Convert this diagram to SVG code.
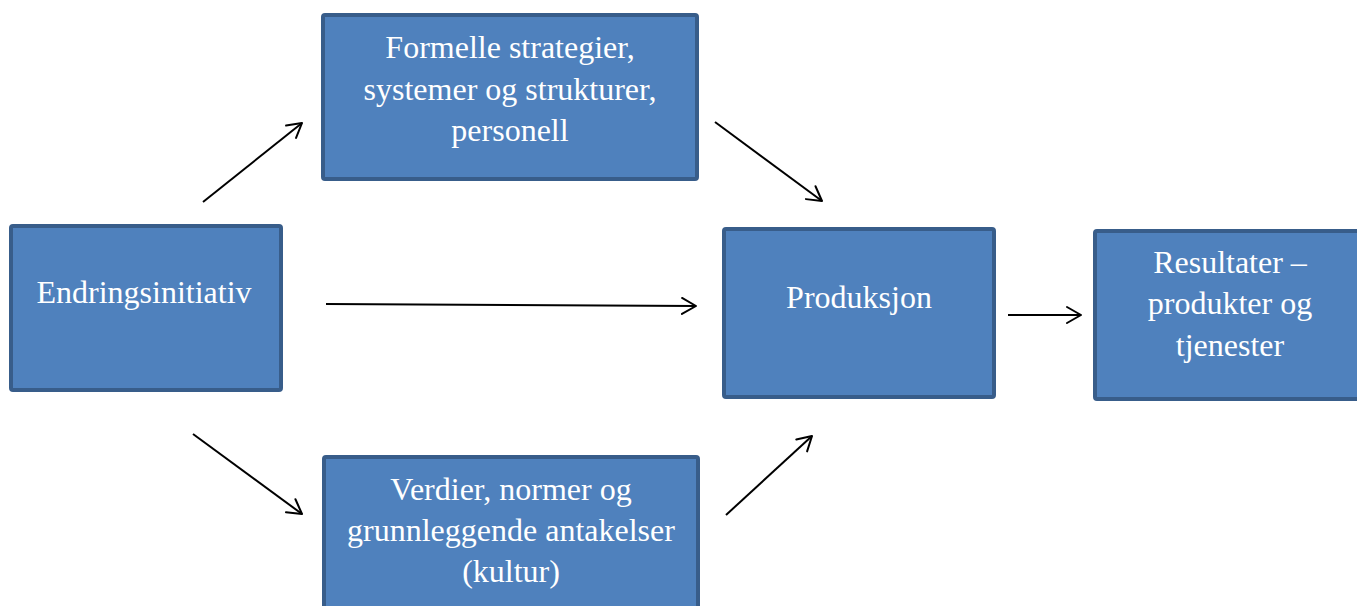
<svg xmlns="http://www.w3.org/2000/svg" width="1357" height="606" viewBox="0 0 1357 606">
  <style>
    .box { fill: #4f81bd; stroke: #385d8a; stroke-width: 4; }
    .lbl { fill: #ffffff; font-family: "Liberation Serif", "Times New Roman", serif; font-size: 32px; text-anchor: middle; }
    .arrow { fill: none; stroke: #000000; stroke-width: 2; marker-end: url(#head); }
  </style>
  <defs>
    <marker id="head" viewBox="0 0 20 20" refX="18" refY="10" markerWidth="20" markerHeight="20" markerUnits="userSpaceOnUse" orient="auto">
      <path d="M4,2 L18,10 L4,18" fill="none" stroke="#000000" stroke-width="2" stroke-linecap="round" stroke-linejoin="round"/>
    </marker>
  </defs>
  <rect width="1357" height="606" fill="#ffffff"/>

  <g id="connectors">
    <line class="arrow" x1="203" y1="202" x2="302" y2="123"/>
    <line class="arrow" x1="326" y1="304" x2="696" y2="306"/>
    <line class="arrow" x1="193" y1="434" x2="302" y2="514"/>
    <line class="arrow" x1="715" y1="122" x2="822" y2="201"/>
    <line class="arrow" x1="726" y1="515" x2="812" y2="436"/>
    <line class="arrow" x1="1008" y1="315" x2="1081" y2="315"/>
  </g>

  <g id="endringsinitiativ">
    <rect class="box" x="11" y="226" width="270" height="164" rx="2"/>
    <text class="lbl" x="144" y="303">Endringsinitiativ</text>
  </g>

  <g id="formelle">
    <rect class="box" x="323" y="15" width="374" height="164" rx="2"/>
    <text class="lbl" x="510" y="58">Formelle strategier,</text>
    <text class="lbl" x="510" y="100">systemer og strukturer,</text>
    <text class="lbl" x="510" y="141">personell</text>
  </g>

  <g id="verdier">
    <rect class="box" x="324" y="457" width="374" height="164" rx="2"/>
    <text class="lbl" x="511" y="500">Verdier, normer og</text>
    <text class="lbl" x="511" y="541">grunnleggende antakelser</text>
    <text class="lbl" x="511" y="582">(kultur)</text>
  </g>

  <g id="produksjon">
    <rect class="box" x="724" y="229" width="270" height="168" rx="2"/>
    <text class="lbl" x="859" y="308">Produksjon</text>
  </g>

  <g id="resultater">
    <rect class="box" x="1095" y="231" width="270" height="168" rx="2"/>
    <text class="lbl" x="1230" y="273">Resultater –</text>
    <text class="lbl" x="1230" y="314">produkter og</text>
    <text class="lbl" x="1230" y="356">tjenester</text>
  </g>
</svg>
